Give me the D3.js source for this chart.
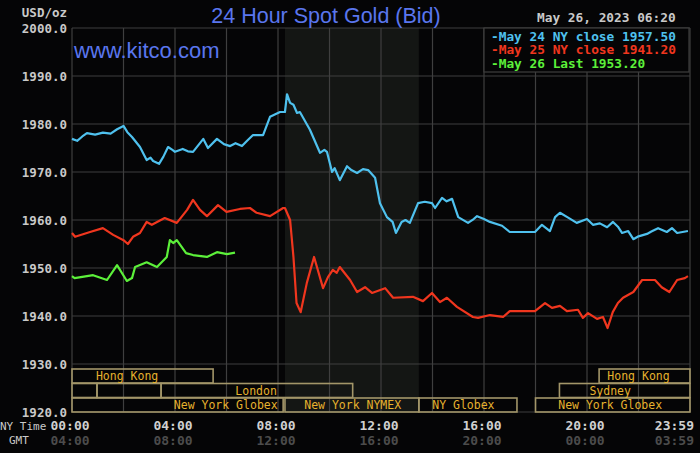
<!DOCTYPE html>
<html>
<head>
<meta charset="utf-8">
<script src="https://cdn.jsdelivr.net/npm/d3@7"></script>
<style>
  html, body { margin: 0; padding: 0; background: #050506; }
  svg { display: block; }
</style>
</head>
<body>
<svg id="chart" width="700" height="453"></svg>
<script>
  'use strict';

  // price axis ticks and time axis ticks
  var priceTicks = [1920, 1930, 1940, 1950, 1960, 1970, 1980, 1990, 2000];
  var timeTicks = [0, 4, 8, 12, 16, 20, 24];
  var nyTimeLabels = ['00:00', '04:00', '08:00', '12:00', '16:00', '20:00', '23:59'];
  var gmtLabels = ['04:00', '08:00', '12:00', '16:00', '20:00', '00:00', '03:59'];

  // May 24 (blue)
  var may24Hours = [0, 0.2, 0.4, 0.58, 0.9, 1.2, 1.5, 1.75, 2.0, 2.15, 2.33, 2.64, 2.9, 3.05, 3.15, 3.38, 3.55, 3.73, 3.9, 4.0,
    4.3, 4.5, 4.7, 5.1, 5.28, 5.63, 5.9, 6.14, 6.35, 6.6, 6.8, 7.03, 7.42, 7.69, 8.08, 8.27, 8.35, 8.47, 8.6, 8.74,
    8.85, 9.24, 9.63, 9.8, 9.9, 10.1, 10.2, 10.4, 10.68, 10.85, 11.07, 11.3, 11.5, 11.77, 11.96, 12.23, 12.45, 12.58, 12.8, 12.95,
    13.12, 13.44, 13.7, 13.98, 14.1, 14.37, 14.55, 14.76, 15.0, 15.38, 15.6, 15.73, 16.0, 16.23, 16.7, 17.0, 17.98, 18.25, 18.56, 18.76,
    18.95, 19.3, 19.6, 20.0, 20.23, 20.5, 20.78, 21.01, 21.2, 21.36, 21.6, 21.8, 22.0, 22.33, 22.5, 22.76, 23.1, 23.3, 23.5, 23.92];
  var may24Prices = [1976.9, 1976.5, 1977.4, 1978.1, 1977.8, 1978.2, 1978.0, 1978.9, 1979.6, 1978.3, 1977.3, 1975.2, 1972.5, 1973.0, 1972.3, 1971.7, 1973.2, 1975.2, 1974.6, 1974.2,
    1974.8, 1974.3, 1974.2, 1976.9, 1975.0, 1976.9, 1975.8, 1975.4, 1976.0, 1975.4, 1976.5, 1977.7, 1977.7, 1981.5, 1982.5, 1982.5, 1986.2, 1984.4, 1984.0, 1982.3,
    1982.5, 1978.8, 1974.0, 1974.6, 1974.2, 1970.0, 1970.8, 1968.3, 1971.2, 1970.4, 1969.8, 1970.6, 1970.4, 1968.8, 1963.5, 1960.6, 1959.6, 1957.3, 1959.6, 1960.0,
    1959.4, 1963.5, 1963.8, 1963.5, 1962.5, 1964.6, 1963.9, 1964.4, 1960.6, 1959.4, 1960.2, 1960.8, 1960.2, 1959.6, 1958.8, 1957.5, 1957.5, 1959.0, 1957.7, 1960.6,
    1961.5, 1960.4, 1959.4, 1960.2, 1959.0, 1959.3, 1958.5, 1959.6, 1958.6, 1957.3, 1957.7, 1956.0, 1956.6, 1957.1, 1957.6, 1958.3, 1957.5, 1958.3, 1957.3, 1957.7];

  // May 25 (red)
  var may25Hours = [0, 0.12, 0.7, 1.2, 1.6, 2.0, 2.17, 2.37, 2.64, 2.9, 3.1, 3.6, 4.07, 4.47, 4.7, 4.97, 5.24, 5.67, 6.0, 6.52,
    6.91, 7.17, 7.69, 8.2, 8.27, 8.47, 8.6, 8.72, 8.88, 9.12, 9.4, 9.75, 9.94, 10.13, 10.28, 10.4, 10.8, 11.07, 11.38, 11.65,
    12.16, 12.47, 13.24, 13.63, 13.98, 14.29, 14.56, 14.95, 15.57, 15.77, 16.23, 16.74, 17.0, 17.98, 18.37, 18.64, 18.95, 19.22, 19.65, 19.84,
    20.04, 20.39, 20.62, 20.8, 21.0, 21.2, 21.4, 21.8, 22.14, 22.64, 22.9, 23.2, 23.5, 23.8, 23.92];
  var may25Prices = [1957.3, 1956.5, 1957.5, 1958.3, 1956.9, 1955.8, 1955.0, 1956.5, 1957.3, 1959.6, 1959.0, 1960.4, 1959.4, 1962.1, 1964.2, 1962.1, 1960.8, 1963.1, 1961.7, 1962.3,
    1962.5, 1961.5, 1960.8, 1962.5, 1962.5, 1960.0, 1952.3, 1942.7, 1940.8, 1946.9, 1952.3, 1945.8, 1948.1, 1949.6, 1949.0, 1950.2, 1947.5, 1945.0, 1946.0, 1944.8,
    1945.8, 1943.8, 1944.0, 1943.1, 1944.8, 1942.9, 1943.8, 1941.9, 1939.8, 1939.6, 1940.2, 1939.8, 1941.0, 1941.0, 1942.7, 1941.7, 1942.1, 1941.0, 1941.3, 1939.6,
    1940.6, 1939.4, 1939.8, 1937.5, 1940.8, 1942.7, 1943.8, 1945.0, 1947.5, 1947.5, 1946.0, 1945.0, 1947.5, 1947.9, 1948.3];

  // May 26 (green, to 06:20)
  var may26Hours = [0, 0.1, 0.82, 1.36, 1.75, 2.13, 2.33, 2.45, 2.9, 3.3, 3.68, 3.8, 3.93, 4.07, 4.43, 4.7, 5.24, 5.63, 6.02, 6.33];
  var may26Prices = [1948.3, 1947.9, 1948.5, 1947.5, 1950.6, 1947.3, 1947.9, 1950.2, 1951.2, 1950.2, 1952.3, 1955.8, 1955.2, 1955.8, 1953.1, 1952.7, 1952.3, 1953.3, 1952.9, 1953.2];

  var legendLabels = ['May 24 NY close 1957.50', 'May 25 NY close 1941.20', 'May 26 Last 1953.20'];
  var seriesColors = ['#4fc1ee', '#f0361e', '#5cf03a'];

  // trading session bars: row, start hour, end hour, label, label hour
  var sessionRows = [0, 1, 1, 1, 2, 2, 2, 2, 1, 0];
  var sessionStarts = [0, 0, 0.97, 3.46, 0, 8.27, 13.47, 18.0, 18.93, 20.47];
  var sessionEnds = [5.48, 0.97, 3.46, 10.9, 8.2, 13.47, 17.28, 24, 24, 24];
  var sessionNames = ['Hong Kong', '', '', 'London', 'New York Globex', 'New York NYMEX', 'NY Globex', 'New York Globex', 'Sydney', 'Hong Kong'];
  var sessionLabelHours = [2.14, 0, 0, 7.15, 5.97, 10.9, 15.2, 20.9, 20.9, 22.0];

  var nymexStart = 8.27, nymexEnd = 13.47;

  var svg = d3.select('#chart');
  var mono = '"DejaVu Sans Mono", monospace';
  var sans = '"Liberation Sans", Arial, sans-serif';

  var x = d3.scaleLinear().domain([0, 24]).range([72, 690]);
  var y = d3.scaleLinear().domain([1920, 2000]).range([412, 28]);

  svg.append('rect')
    .attr('width', 700).attr('height', 453).attr('fill', '#050506');

  // NYMEX shading
  svg.append('rect')
    .attr('x', x(nymexStart)).attr('y', y(2000))
    .attr('width', x(nymexEnd) - x(nymexStart))
    .attr('height', y(1920) - y(2000))
    .attr('fill', '#141614');

  // grid
  var grid = svg.append('g').attr('stroke', '#3f3f3f').attr('stroke-width', 1.2);
  grid.selectAll('line.h')
    .data(priceTicks)
    .enter().append('line')
      .attr('x1', x(0)).attr('x2', x(24))
      .attr('y1', function (d) { return y(d); })
      .attr('y2', function (d) { return y(d); });
  grid.selectAll('line.v')
    .data(d3.range(0, 25, 2))
    .enter().append('line')
      .attr('y1', y(2000)).attr('y2', y(1920))
      .attr('x1', function (d) { return x(d); })
      .attr('x2', function (d) { return x(d); });

  // y labels
  svg.append('g').selectAll('text')
    .data(priceTicks)
    .enter().append('text')
      .attr('x', 67)
      .attr('y', function (d) { return y(d); })
      .attr('dy', '0.36em')
      .attr('text-anchor', 'end')
      .attr('fill', '#c9c9c9')
      .style('font', 'bold 12.5px ' + mono)
      .text(function (d) { return d3.format('.1f')(d); });

  svg.append('text')
    .attr('x', 67).attr('y', 17)
    .attr('text-anchor', 'end')
    .attr('fill', '#c9c9c9')
    .style('font', 'bold 12.5px ' + mono)
    .text('USD/oz');

  // x labels
  var xl = svg.append('g');
  xl.selectAll('text.ny')
    .data(timeTicks)
    .enter().append('text')
      .attr('x', function (d, i) { return i === 6 ? 694 : x(d) - 2; })
      .attr('y', 430)
      .attr('text-anchor', function (d, i) { return i === 6 ? 'end' : 'middle'; })
      .attr('fill', '#d0d0d0')
      .style('font', 'bold 13px ' + mono)
      .text(function (d, i) { return nyTimeLabels[i]; });
  xl.selectAll('text.gmt')
    .data(timeTicks)
    .enter().append('text')
      .attr('x', function (d, i) { return i === 6 ? 694 : x(d) - 2; })
      .attr('y', 445)
      .attr('text-anchor', function (d, i) { return i === 6 ? 'end' : 'middle'; })
      .attr('fill', '#4c4c4c')
      .style('font', 'bold 13px ' + mono)
      .text(function (d, i) { return gmtLabels[i]; });
  xl.append('text')
    .attr('x', 0).attr('y', 430)
    .attr('fill', '#c9c9c9')
    .style('font', '11px ' + mono)
    .text('NY Time');
  xl.append('text')
    .attr('x', 9).attr('y', 444)
    .attr('fill', '#c9c9c9')
    .style('font', '11px ' + mono)
    .text('GMT');

  // session bars
  var rowTop = [369, 383.5, 398];
  var rowH = 14;
  var sessions = svg.append('g');
  sessions.selectAll('rect')
    .data(sessionStarts)
    .enter().append('rect')
      .attr('x', function (d) { return x(d); })
      .attr('y', function (d, i) { return rowTop[sessionRows[i]]; })
      .attr('width', function (d, i) { return x(sessionEnds[i]) - x(d); })
      .attr('height', rowH)
      .attr('fill', 'none')
      .attr('stroke', '#a39669')
      .attr('stroke-width', 1.6);
  sessions.selectAll('text')
    .data(sessionNames)
    .enter().append('text')
      .attr('x', function (d, i) { return x(sessionLabelHours[i]); })
      .attr('y', function (d, i) { return rowTop[sessionRows[i]] + rowH / 2; })
      .attr('dy', '0.36em')
      .attr('text-anchor', 'middle')
      .attr('fill', '#e6b22e')
      .style('font', '11.5px ' + mono)
      .text(function (d) { return d; });

  // price lines
  var line = d3.line()
    .x(function (d) { return x(d[0]); })
    .y(function (d) { return y(d[1]); });

  var series = [
    d3.zip(may24Hours, may24Prices),
    d3.zip(may25Hours, may25Prices),
    d3.zip(may26Hours, may26Prices)
  ];

  svg.append('g').selectAll('path')
    .data(series)
    .enter().append('path')
      .attr('d', line)
      .attr('fill', 'none')
      .attr('stroke', function (d, i) { return seriesColors[i]; })
      .attr('stroke-width', 2.2)
      .attr('stroke-linejoin', 'round');

  // legend
  svg.append('rect')
    .attr('x', 484).attr('y', 28).attr('width', 205).attr('height', 44)
    .attr('fill', '#050506').attr('stroke', '#3f3f3f').attr('stroke-width', 1.2);
  svg.append('g').selectAll('text')
    .data(legendLabels)
    .enter().append('text')
      .attr('x', 491)
      .attr('y', function (d, i) { return 36 + i * 13.6; })
      .attr('dy', '0.36em')
      .attr('fill', function (d, i) { return seriesColors[i]; })
      .style('font', 'bold 12.8px ' + mono)
      .text(function (d) { return '-' + d; });

  // titles
  svg.append('text')
    .attr('x', 326).attr('y', 23)
    .attr('text-anchor', 'middle')
    .attr('fill', '#5a76ee')
    .style('font', '21.5px ' + sans)
    .text('24 Hour Spot Gold (Bid)');

  svg.append('text')
    .attr('x', 74).attr('y', 58)
    .attr('fill', '#5a76ee')
    .style('font', '22px ' + sans)
    .text('www.kitco.com');

  svg.append('text')
    .attr('x', 537).attr('y', 22)
    .attr('fill', '#c9c9c9')
    .style('font', 'bold 12.8px ' + mono)
    .text('May 26, 2023 06:20');
</script>
</body>
</html>
